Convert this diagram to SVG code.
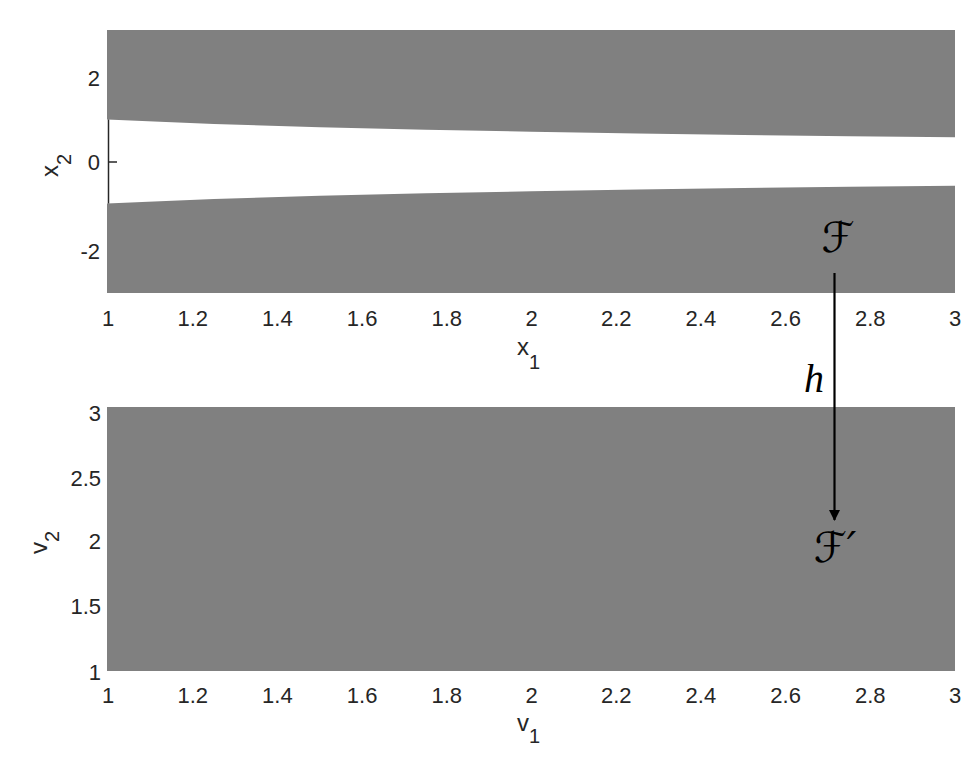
<svg xmlns="http://www.w3.org/2000/svg" width="980" height="763" viewBox="0 0 980 763">
<defs>
<style>
.region{fill:#808080;stroke:none}
.tick{font-family:"Liberation Sans",Arial,sans-serif;font-size:22px;fill:#262626}
.xt{text-anchor:middle}
.yt{text-anchor:end}
.ax{font-family:"Liberation Sans",Arial,sans-serif;font-size:24px;fill:#262626}
.sub{font-size:20px}
.axline{stroke:#262626;stroke-width:1.5;fill:none}
.math{font-family:"DejaVu Serif","DejaVu Sans",serif;font-style:italic;fill:#000}
.conn{stroke:#000;stroke-width:2.2;fill:none}
</style>
<marker id="ah" viewBox="0 0 10 10" refX="9" refY="5" markerWidth="5.5" markerHeight="5" markerUnits="strokeWidth" orient="auto">
<path d="M0,0 L10,5 L0,10 Z" fill="#000"/>
</marker>
</defs>
<rect width="980" height="763" fill="#fff"/>

<g id="top-plot">
<path class="region" d="M107,30 H955 V137.3 L849.1,136.2 L743.25,134.9 L637.4,133.5 L531.5,131.8 L425.6,129.7 L319.75,127.2 L213.9,123.9 L160,121.8 L107,119.5 Z"/>
<path class="region" d="M107,293 H955 V185.7 L849.1,186.8 L743.25,188.1 L637.4,189.5 L531.5,191.2 L425.6,193.3 L319.75,195.8 L213.9,199.1 L160,201.2 L107,203.5 Z"/>
<line class="axline" x1="108.5" y1="119.5" x2="108.5" y2="203.5"/>
<line class="axline" x1="108.5" y1="162" x2="117" y2="162"/>
<g class="tick yt">
<text x="100" y="86">2</text>
<text x="100" y="170">0</text>
<text x="100" y="259">-2</text>
</g>
<g class="tick xt">
<text x="108" y="326">1</text>
<text x="192.7" y="326">1.2</text>
<text x="277.4" y="326">1.4</text>
<text x="362.1" y="326">1.6</text>
<text x="446.8" y="326">1.8</text>
<text x="531.5" y="326">2</text>
<text x="616.2" y="326">2.2</text>
<text x="700.9" y="326">2.4</text>
<text x="785.6" y="326">2.6</text>
<text x="870.3" y="326">2.8</text>
<text x="955" y="326">3</text>
</g>
<text class="ax" x="517" y="355">x<tspan class="sub" dy="14">1</tspan></text>
<text class="ax" transform="translate(58,177) rotate(-90)">x<tspan class="sub" dy="13">2</tspan></text>
</g>

<g id="bottom-plot">
<rect class="region" x="107" y="407" width="848" height="264"/>
<g class="tick yt">
<text x="101" y="421">3</text>
<text x="101" y="486">2.5</text>
<text x="101" y="549">2</text>
<text x="101" y="614">1.5</text>
<text x="101" y="680">1</text>
</g>
<g class="tick xt">
<text x="108" y="703">1</text>
<text x="192.7" y="703">1.2</text>
<text x="277.4" y="703">1.4</text>
<text x="362.1" y="703">1.6</text>
<text x="446.8" y="703">1.8</text>
<text x="531.5" y="703">2</text>
<text x="616.2" y="703">2.2</text>
<text x="700.9" y="703">2.4</text>
<text x="785.6" y="703">2.6</text>
<text x="870.3" y="703">2.8</text>
<text x="955" y="703">3</text>
</g>
<text class="ax" x="517" y="731">v<tspan class="sub" dy="12">1</tspan></text>
<text class="ax" transform="translate(47,554) rotate(-90)">v<tspan class="sub" dy="12">2</tspan></text>
</g>

<g id="node-F">
<text class="math" x="838" y="252" font-size="42" text-anchor="middle">ℱ</text>
</g>
<g id="node-Fprime">
<text class="math" x="835" y="562" font-size="42" text-anchor="middle">ℱ′</text>
</g>

<g id="connectors">
<line class="conn" x1="834.5" y1="273" x2="834.5" y2="520" marker-end="url(#ah)"/>
<text x="814" y="392" font-family="'Liberation Serif','Times New Roman',serif" font-style="italic" font-size="40" text-anchor="middle" fill="#000">h</text>
</g>
</svg>
